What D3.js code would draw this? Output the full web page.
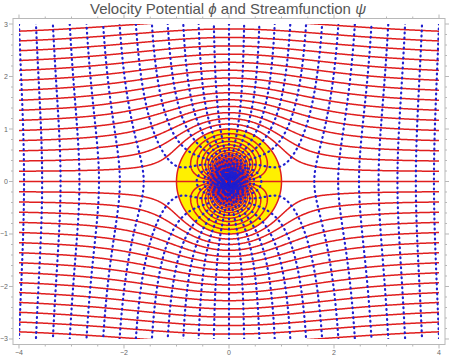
<!DOCTYPE html>
<html>
<head>
<meta charset="utf-8">
<script src="https://cdn.jsdelivr.net/npm/d3@7"></script>
<style>
  body { margin: 0; background: #fff; }
  text { font-family: "Liberation Sans", Arial, sans-serif; }
</style>
</head>
<body>
<svg id="chart" width="449" height="357"></svg>
<script>
// flow past a cylinder: uniform stream U plus a doublet, radius a
const U = 1, a = 1;
const xExtent = [-4, 4];
const yExtent = [-3, 3];
const xFrame = [-4.114, 4.114];
const yFrame = [-3.105, 3.105];
const psiStep = 0.183, psiMax = 60;   // streamfunction contour spacing / count each side
const phiStep = 0.32, phiMax = 35;    // potential contour spacing / count each side
const xMajorTicks = [-4, -2, 0, 2, 4];
const yMajorTicks = [-3, -2, -1, 0, 1, 2, 3];
const xMinorTicks = [-3.5, -3, -2.5, -1.5, -1, -0.5, 0.5, 1, 1.5, 2.5, 3, 3.5];
const yMinorTicks = [-2.8, -2.6, -2.4, -2.2, -1.8, -1.6, -1.4, -1.2, -0.8, -0.6, -0.4, -0.2,
                     0.2, 0.4, 0.6, 0.8, 1.2, 1.4, 1.6, 1.8, 2.2, 2.4, 2.6, 2.8];

const phi = (x, y) => { const r2 = x * x + y * y; return U * x * (1 + a * a / r2); };
const psi = (x, y) => { const r2 = x * x + y * y; return U * y * (1 - a * a / r2); };

const svg = d3.select('#chart');
const x = d3.scaleLinear().domain(xFrame).range([13, 445]);
const y = d3.scaleLinear().domain(yFrame).range([344.5, 18.5]);

svg.append('defs').append('clipPath').attr('id', 'clip')
  .append('rect')
  .attr('x', x(xExtent[0])).attr('y', y(yExtent[1]))
  .attr('width', x(xExtent[1]) - x(xExtent[0]))
  .attr('height', y(yExtent[0]) - y(yExtent[1]));

// sample grid a bit larger than the clip so polygon borders fall outside
const res = 84;
const gx0 = -4.15, gy0 = -3.15;
const nx = Math.round(8.3 * res), ny = Math.round(6.3 * res);
const dx = 1 / res;
const psiGrid = new Float64Array(nx * ny), phiGrid = new Float64Array(nx * ny);
for (let j = 0; j < ny; j++) {
  const yy = gy0 + (j + 0.5) * dx;
  for (let i = 0; i < nx; i++) {
    const xx = gx0 + (i + 0.5) * dx;
    psiGrid[i + j * nx] = psi(xx, yy);
    phiGrid[i + j * nx] = phi(xx, yy);
  }
}

const path = d3.geoPath(d3.geoTransform({
  point: function(px, py) { this.stream.point(x(gx0 + px * dx), y(gy0 + py * dx)); }
}));

const psiLevels = d3.range(-psiMax, psiMax + 1).map(k => k * psiStep + 1e-9);
const phiLevels = d3.range(-phiMax, phiMax + 1).map(k => k * phiStep + 1e-9);

const plot = svg.append('g').attr('clip-path', 'url(#clip)');

plot.append('circle')
  .attr('cx', x(0)).attr('cy', y(0))
  .attr('r', x(a) - x(0))
  .attr('fill', '#fff000');

plot.append('g')
  .attr('fill', 'none').attr('stroke', '#e01e1e').attr('stroke-width', 1.5)
  .selectAll('path')
  .data(d3.contours().size([nx, ny]).thresholds(psiLevels)(psiGrid))
  .join('path')
  .attr('d', path);

plot.append('g')
  .attr('fill', 'none').attr('stroke', '#1f1fd0').attr('stroke-width', 2.2)
  .attr('stroke-dasharray', '0.8 4.2').attr('stroke-linecap', 'round')
  .selectAll('path')
  .data(d3.contours().size([nx, ny]).thresholds(phiLevels)(phiGrid))
  .join('path')
  .attr('d', path);

// frame
const frame = svg.append('g').attr('stroke', '#b8b8b8').attr('fill', 'none');
frame.append('rect')
  .attr('x', x(xFrame[0])).attr('y', y(yFrame[1]))
  .attr('width', x(xFrame[1]) - x(xFrame[0]))
  .attr('height', y(yFrame[0]) - y(yFrame[1]));

const fTop = y(yFrame[1]), fBot = y(yFrame[0]), fLeft = x(xFrame[0]), fRight = x(xFrame[1]);
function xTicks(vals, len) {
  vals.forEach(v => {
    frame.append('line').attr('x1', x(v)).attr('x2', x(v)).attr('y1', fBot).attr('y2', fBot + len);
    frame.append('line').attr('x1', x(v)).attr('x2', x(v)).attr('y1', fTop).attr('y2', fTop - len);
  });
}
function yTicks(vals, len) {
  vals.forEach(v => {
    frame.append('line').attr('y1', y(v)).attr('y2', y(v)).attr('x1', fLeft).attr('x2', fLeft - len);
    frame.append('line').attr('y1', y(v)).attr('y2', y(v)).attr('x1', fRight).attr('x2', fRight + len);
  });
}
xTicks(xMajorTicks, 4); xTicks(xMinorTicks, 2);
yTicks(yMajorTicks, 4); yTicks(yMinorTicks, 2);

svg.append('g').selectAll('text').data(xMajorTicks).join('text')
  .attr('x', d => x(d)).attr('y', 355)
  .attr('text-anchor', 'middle').attr('font-size', 7).attr('fill', '#666')
  .text(d => d < 0 ? '\u2212' + Math.abs(d) : d);

svg.append('g').selectAll('text').data(yMajorTicks).join('text')
  .attr('x', 8).attr('y', d => y(d) + 2.5)
  .attr('text-anchor', 'end').attr('font-size', 7).attr('fill', '#666')
  .text(d => d < 0 ? '\u2212' + Math.abs(d) : d);

const t = svg.append('text')
  .attr('x', 228).attr('y', 13.5).attr('text-anchor', 'middle')
  .attr('font-size', 15).attr('fill', '#555');
t.append('tspan').text('Velocity Potential ');
t.append('tspan').attr('font-style', 'italic').text('\u03d5');
t.append('tspan').text(' and Streamfunction ');
t.append('tspan').attr('font-style', 'italic').text('\u03c8');
</script>
</body>
</html>
